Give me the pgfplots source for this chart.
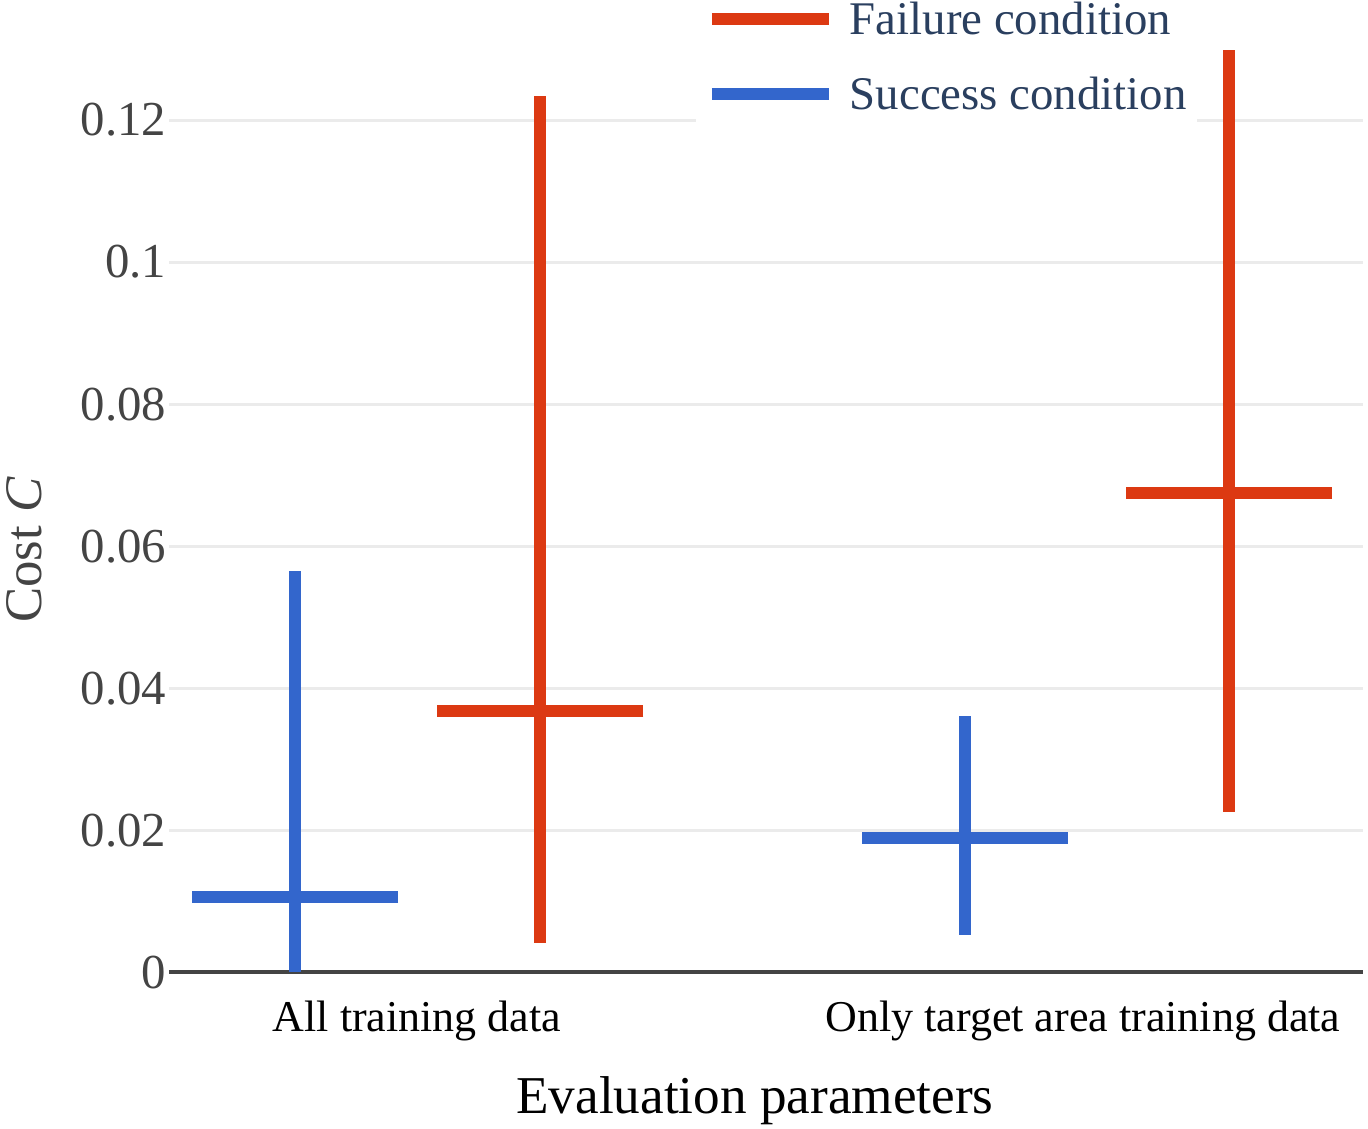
\documentclass[border=0pt]{standalone}
\usepackage{fontspec}
\setmainfont{Liberation Serif}
\usepackage{pgfplots}
\usepackage{pgfplotstable}
\pgfplotsset{compat=1.18}
\usetikzlibrary{calc}

\definecolor{sred}{HTML}{DC3912}
\definecolor{sblue}{HTML}{3366CC}
\definecolor{tickgray}{HTML}{444444}
\definecolor{legnavy}{HTML}{2A3F5F}
\definecolor{gridgray}{HTML}{EBEBEB}

% x position, mean, +error, -error
\pgfplotstableread{
x       y       ep      em
0.1854  0.0368  0.0866  0.0327
1.2192  0.0675  0.0624  0.0449
}\failure
\pgfplotstableread{
x       y       ep      em
-0.1832 0.0106  0.0459  0.0106
0.8221  0.0189  0.0172  0.0137
}\success

\begin{document}
\begin{tikzpicture}
\begin{axis}[
  name=ax,
  scale only axis,
  width=298.5pt, height=243.075pt,
  xmin=-0.3724, xmax=1.4204,
  ymin=0, ymax=0.1369,
  clip=false,
  axis line style={draw=none},
  major tick length=0pt,
  xtick={0,1},
  xticklabels={All training data, Only target area training data},
  xticklabel style={anchor=base, yshift=-14.9pt, font=\fontsize{11}{13}\selectfont, text=black},
  ytick={0.02,0.04,0.06,0.08,0.1,0.12},
  extra y ticks={0},
  extra y tick style={ymajorgrids=true, major grid style={tickgray, line width=1pt}},
  scaled y ticks=false,
  yticklabel style={/pgf/number format/fixed, /pgf/number format/precision=2,
    /pgf/number format/assume math mode=true,
    font=\fontsize{12.2}{14}\selectfont, text=tickgray, anchor=east, inner sep=0pt, xshift=-0.5pt},
  ymajorgrids,
  major grid style={gridgray, line width=0.75pt},
  xlabel={Evaluation parameters},
  xlabel style={at={(rel axis cs:0.4908,-0.1447)}, anchor=base, font=\fontsize{13.3}{15}\selectfont, text=black},
  ylabel={Cost \textit{C}},
  ylabel style={at={(rel axis cs:-0.1064,0.4343)}, anchor=base, rotate=0, font=\fontsize{13.2}{15}\selectfont, text=tickgray},
  legend style={at={(rel axis cs:0.4413,1.0)}, anchor=north west, draw=none, fill=white,
    inner xsep=2.5pt, inner ysep=0pt, outer sep=0pt,
    font=\fontsize{11.7}{14}\selectfont, text=legnavy,
    row sep=7pt,
    nodes={inner sep=0pt, text height=8.5pt, text depth=3.25pt}},
  legend cell align=left,
  /tikz/every odd column/.append style={column sep=3.75pt},
]
\addplot[sred, line width=3pt, mark=-, mark size=25.75pt, only marks,
  legend image code/.code={\draw[sred, line width=3pt] (0pt,1.1pt) -- (29.25pt,1.1pt);},
  error bars/.cd, y dir=both, y explicit, error mark=none,
  error bar style={line width=3pt, sred}]
  table[x=x, y=y, y error plus=ep, y error minus=em] {\failure};
\addlegendentry{Failure condition}
\addplot[sblue, line width=3pt, mark=-, mark size=25.75pt, only marks,
  legend image code/.code={\draw[sblue, line width=3pt] (0pt,1.1pt) -- (29.25pt,1.1pt);},
  error bars/.cd, y dir=both, y explicit, error mark=none,
  error bar style={line width=3pt, sblue}]
  table[x=x, y=y, y error plus=ep, y error minus=em] {\success};
\addlegendentry{Success condition}
\end{axis}
\pgfresetboundingbox
\path[use as bounding box] ($(ax.south west)+(-42.25pt,-38.925pt)$) rectangle ($(ax.north east)+(1.25pt,0pt)$);
\end{tikzpicture}
\end{document}
